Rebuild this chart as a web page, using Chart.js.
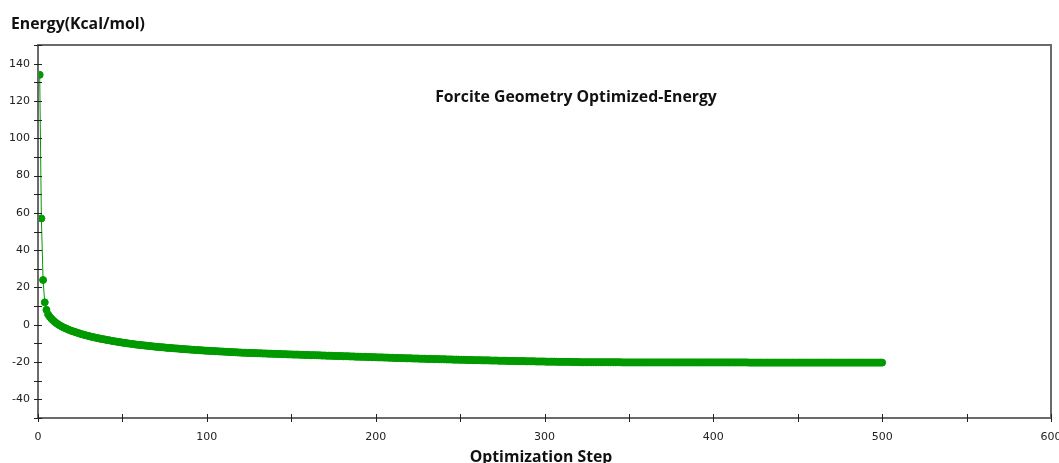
<!DOCTYPE html>
<html>
<head>
<meta charset="utf-8">
<script src="https://cdn.jsdelivr.net/npm/chart.js@4/dist/chart.umd.min.js"></script>
<style>
  html, body { margin: 0; padding: 0; background: #fff; }
  #wrap { width: 1059px; height: 463px; position: relative; }
</style>
</head>
<body>
<div id="wrap"><canvas id="chart"></canvas></div>
<script>
// Forcite geometry optimisation energy per step (steps 1..500)
const yTitle = 'Energy(Kcal/mol)';
const xTitle = 'Optimization Step';
const chartTitle = 'Forcite Geometry Optimized-Energy';

const energy = [
    134, 57, 24, 12, 8, 5.5, 4.2, 3.2, 2.3, 1.5,
    0.8, 0.2, -0.4, -0.9, -1.4, -1.8, -2.2, -2.6, -3.0, -3.3,
    -3.6, -3.9, -4.2, -4.5, -4.8, -5.1, -5.3, -5.6, -5.8, -6.0,
    -6.3, -6.5, -6.7, -6.9, -7.1, -7.3, -7.5, -7.7, -7.8, -8.0,
    -8.2, -8.3, -8.5, -8.7, -8.8, -9.0, -9.1, -9.3, -9.4, -9.6,
    -9.7, -9.8, -10.0, -10.1, -10.2, -10.3, -10.5, -10.6, -10.7, -10.8,
    -10.9, -11.0, -11.1, -11.2, -11.3, -11.4, -11.5, -11.6, -11.7, -11.8,
    -11.9, -12.0, -12.0, -12.1, -12.2, -12.3, -12.4, -12.4, -12.5, -12.6,
    -12.7, -12.7, -12.8, -12.9, -13.0, -13.0, -13.1, -13.2, -13.2, -13.3,
    -13.4, -13.4, -13.5, -13.6, -13.6, -13.7, -13.7, -13.8, -13.9, -13.9,
    -14.0, -14.0, -14.1, -14.1, -14.2, -14.2, -14.3, -14.3, -14.4, -14.4,
    -14.5, -14.5, -14.6, -14.6, -14.7, -14.7, -14.8, -14.8, -14.9, -14.9,
    -15.0, -15.0, -15.0, -15.1, -15.1, -15.1, -15.2, -15.2, -15.2, -15.3,
    -15.3, -15.3, -15.4, -15.4, -15.4, -15.5, -15.5, -15.5, -15.6, -15.6,
    -15.6, -15.7, -15.7, -15.7, -15.8, -15.8, -15.8, -15.9, -15.9, -15.9,
    -16.0, -16.0, -16.0, -16.0, -16.1, -16.1, -16.1, -16.2, -16.2, -16.2,
    -16.3, -16.3, -16.3, -16.3, -16.4, -16.4, -16.4, -16.5, -16.5, -16.5,
    -16.6, -16.6, -16.6, -16.6, -16.7, -16.7, -16.7, -16.8, -16.8, -16.8,
    -16.9, -16.9, -16.9, -16.9, -17.0, -17.0, -17.0, -17.1, -17.1, -17.1,
    -17.2, -17.2, -17.2, -17.2, -17.3, -17.3, -17.3, -17.4, -17.4, -17.4,
    -17.5, -17.5, -17.5, -17.5, -17.6, -17.6, -17.6, -17.7, -17.7, -17.7,
    -17.8, -17.8, -17.8, -17.8, -17.9, -17.9, -17.9, -18.0, -18.0, -18.0,
    -18.0, -18.1, -18.1, -18.1, -18.1, -18.2, -18.2, -18.2, -18.2, -18.3,
    -18.3, -18.3, -18.3, -18.4, -18.4, -18.4, -18.4, -18.5, -18.5, -18.5,
    -18.5, -18.6, -18.6, -18.6, -18.6, -18.7, -18.7, -18.7, -18.7, -18.8,
    -18.8, -18.8, -18.8, -18.9, -18.9, -18.9, -18.9, -19.0, -19.0, -19.0,
    -19.0, -19.0, -19.1, -19.1, -19.1, -19.1, -19.1, -19.2, -19.2, -19.2,
    -19.2, -19.2, -19.3, -19.3, -19.3, -19.3, -19.3, -19.4, -19.4, -19.4,
    -19.4, -19.4, -19.5, -19.5, -19.5, -19.5, -19.5, -19.5, -19.6, -19.6,
    -19.6, -19.6, -19.6, -19.6, -19.7, -19.7, -19.7, -19.7, -19.7, -19.7,
    -19.8, -19.8, -19.8, -19.8, -19.8, -19.8, -19.8, -19.9, -19.9, -19.9,
    -19.9, -19.9, -19.9, -19.9, -19.9, -20.0, -20.0, -20.0, -20.0, -20.0,
    -20.1, -20.1, -20.1, -20.1, -20.1, -20.1, -20.1, -20.1, -20.1, -20.1,
    -20.1, -20.1, -20.1, -20.1, -20.1, -20.1, -20.1, -20.1, -20.1, -20.1,
    -20.1, -20.1, -20.1, -20.1, -20.1, -20.2, -20.2, -20.2, -20.2, -20.2,
    -20.2, -20.2, -20.2, -20.2, -20.2, -20.2, -20.2, -20.2, -20.2, -20.2,
    -20.2, -20.2, -20.2, -20.2, -20.2, -20.2, -20.2, -20.2, -20.2, -20.2,
    -20.2, -20.2, -20.2, -20.2, -20.2, -20.2, -20.2, -20.2, -20.2, -20.2,
    -20.2, -20.2, -20.2, -20.2, -20.2, -20.2, -20.2, -20.2, -20.2, -20.2,
    -20.2, -20.2, -20.2, -20.2, -20.2, -20.2, -20.2, -20.2, -20.2, -20.2,
    -20.2, -20.2, -20.2, -20.2, -20.2, -20.2, -20.2, -20.2, -20.2, -20.2,
    -20.2, -20.2, -20.2, -20.2, -20.2, -20.2, -20.2, -20.2, -20.2, -20.2,
    -20.3, -20.3, -20.3, -20.3, -20.3, -20.3, -20.3, -20.3, -20.3, -20.3,
    -20.3, -20.3, -20.3, -20.3, -20.3, -20.3, -20.3, -20.3, -20.3, -20.3,
    -20.3, -20.3, -20.3, -20.3, -20.3, -20.3, -20.3, -20.3, -20.3, -20.3,
    -20.3, -20.3, -20.3, -20.3, -20.3, -20.3, -20.3, -20.3, -20.3, -20.3,
    -20.3, -20.3, -20.3, -20.3, -20.3, -20.3, -20.3, -20.3, -20.3, -20.3,
    -20.3, -20.3, -20.3, -20.3, -20.3, -20.3, -20.3, -20.3, -20.3, -20.3,
    -20.3, -20.3, -20.3, -20.3, -20.3, -20.3, -20.3, -20.3, -20.3, -20.3,
    -20.3, -20.3, -20.3, -20.3, -20.3, -20.3, -20.3, -20.3, -20.3, -20.3
];
const steps = energy.map((_, i) => i + 1);

const xRange = [0, 600];
const yRange = [-50, 150];

const green = '#009a00';
const tickFont = { family: "'DejaVu Sans', sans-serif", size: 11 };

// frame, crossing tick marks and the free-standing texts
const decor = {
    id: 'decor',
    afterDraw(chart) {
        const { ctx, chartArea: a, scales: { x, y } } = chart;
        ctx.save();
        ctx.strokeStyle = '#6a6a6a';
        ctx.lineWidth = 2;
        ctx.strokeRect(a.left, a.top, a.right - a.left, a.bottom - a.top);

        ctx.strokeStyle = '#222';
        ctx.lineWidth = 1;
        y.ticks.forEach(t => {
            const py = Math.round(y.getPixelForValue(t.value)) + 0.5;
            ctx.beginPath();
            ctx.moveTo(a.left - 4, py);
            ctx.lineTo(a.left + 4, py);
            ctx.stroke();
        });
        x.ticks.forEach(t => {
            const px = Math.round(x.getPixelForValue(t.value)) + 0.5;
            ctx.beginPath();
            ctx.moveTo(px, a.bottom - 4);
            ctx.lineTo(px, a.bottom + 4);
            ctx.stroke();
        });

        ctx.fillStyle = '#111';
        ctx.font = "bold 15.8px 'Open Sans', sans-serif";
        ctx.textAlign = 'left';
        ctx.textBaseline = 'alphabetic';
        ctx.fillText(yTitle, 11, 29);
        ctx.textAlign = 'center';
        ctx.fillText(chartTitle, 576, 102);
        ctx.fillText(xTitle, 541, 462);
        ctx.restore();
    }
};

new Chart(document.getElementById('chart'), {
    type: 'scatter',
    data: {
        datasets: [{
            label: 'Energy',
            data: steps.map((s, i) => ({ x: s, y: energy[i] })),
            showLine: true,
            borderColor: green,
            borderWidth: 1,
            backgroundColor: green,
            pointRadius: 3.5,
            pointBorderWidth: 1,
            pointBorderColor: green,
            pointBackgroundColor: green,
            tension: 0
        }]
    },
    options: {
        responsive: true,
        maintainAspectRatio: false,
        animation: false,
        layout: { padding: { top: 45, right: 8, left: 0, bottom: 0 } },
        plugins: {
            legend: { display: false },
            tooltip: { enabled: false }
        },
        scales: {
            x: {
                type: 'linear',
                min: xRange[0],
                max: xRange[1],
                grid: { display: false },
                border: { display: false },
                // keep the "600" label from pushing the plot edge inwards
                afterFit: (s) => { s.height = 45; s.paddingLeft = 0; s.paddingRight = 0; },
                ticks: {
                    stepSize: 50,
                    padding: 5,
                    color: '#222',
                    font: tickFont,
                    maxRotation: 0,
                    autoSkip: false,
                    callback: (v) => v % 100 === 0 ? v : ''
                }
            },
            y: {
                type: 'linear',
                min: yRange[0],
                max: yRange[1],
                grid: { display: false },
                border: { display: false },
                afterFit: (s) => { s.width = 38; s.paddingTop = 0; s.paddingBottom = 0; },
                ticks: {
                    stepSize: 10,
                    padding: 0,
                    color: '#222',
                    font: tickFont,
                    autoSkip: false,
                    callback: (v) => (v % 20 === 0 && v > -50 && v < 150) ? v : ''
                }
            }
        }
    },
    plugins: [decor]
});
</script>
</body>
</html>
